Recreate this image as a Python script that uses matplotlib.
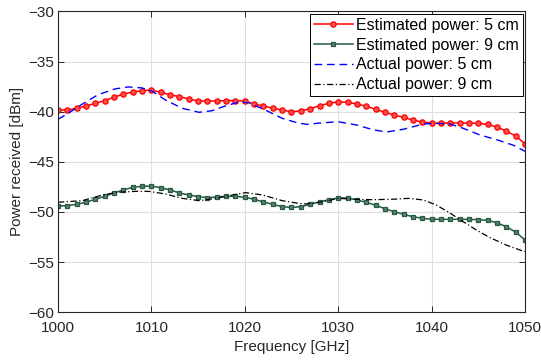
import matplotlib
matplotlib.use("Agg")
import matplotlib.pyplot as plt
import numpy as np

plt.rcParams.update({"font.family": ["Liberation Sans", "DejaVu Sans"], "font.size": 11})

# estimated power, sampled every 1 GHz
freq = list(range(1000, 1051))
est_5cm = [-39.83, -39.83, -39.66, -39.43, -39.16, -38.90, -38.56, -38.24, -38.04, -37.91,
           -37.84, -38.07, -38.31, -38.50, -38.73, -38.93, -38.93, -38.93, -38.90, -38.90,
           -38.93, -39.23, -39.43, -39.66, -39.83, -40.00, -39.93, -39.70, -39.40, -39.16,
           -39.03, -39.06, -39.23, -39.46, -39.76, -40.06, -40.33, -40.56, -40.83, -41.03,
           -41.13, -41.13, -41.13, -41.13, -41.13, -41.17, -41.26, -41.53, -41.93, -42.43,
           -43.19]
est_9cm = [-49.40, -49.37, -49.23, -49.03, -48.73, -48.44, -48.10, -47.80, -47.54, -47.44,
           -47.41, -47.58, -47.80, -48.10, -48.30, -48.47, -48.57, -48.50, -48.44, -48.44,
           -48.54, -48.73, -49.00, -49.23, -49.47, -49.55, -49.47, -49.23, -49.00, -48.77,
           -48.60, -48.60, -48.80, -49.03, -49.33, -49.67, -49.97, -50.23, -50.47, -50.63,
           -50.73, -50.73, -50.73, -50.73, -50.73, -50.77, -50.83, -51.07, -51.47, -52.00,
           -52.79]

# actual power
act5_f = [1000, 1001.1, 1002.5, 1004.3, 1006.1, 1007.5, 1009, 1010.1, 1011.5, 1013.3,
          1015.1, 1016.5, 1017.9, 1019.4, 1020.4, 1022.2, 1024.0, 1025.6, 1026.6, 1028.4,
          1030, 1032, 1033.8, 1035.2, 1037, 1039.1, 1040.2, 1042, 1043.4, 1045.2,
          1047, 1048.8, 1050]
act_5cm = [-40.76, -40.16, -39.30, -38.30, -37.73, -37.53, -37.63, -37.97, -38.83, -39.66,
           -40.06, -39.90, -39.43, -39.03, -39.10, -39.83, -40.66, -41.10, -41.26, -41.10,
           -41.00, -41.33, -41.82, -42.02, -41.75, -41.23, -41.16, -41.23, -41.66, -42.33,
           -42.80, -43.36, -43.95]
act9_f = [1000, 1002.6, 1004.4, 1006.2, 1008.3, 1009.7, 1011.5, 1013.3, 1015.1, 1016.9,
          1018.7, 1020.1, 1021.9, 1024.0, 1025.7, 1026.6, 1028.4, 1030, 1032, 1033.8,
          1035.5, 1037.6, 1039.1, 1040.5, 1042, 1043.4, 1044.8, 1046.2, 1048, 1049.8, 1050]
act_9cm = [-49.03, -48.87, -48.40, -48.04, -47.94, -47.94, -48.20, -48.64, -48.87, -48.64,
           -48.30, -48.07, -48.30, -48.87, -49.13, -49.20, -48.97, -48.64, -48.74, -48.77,
           -48.74, -48.64, -48.80, -49.30, -50.13, -50.97, -51.80, -52.53, -53.30, -53.90,
           -53.95]

fig = plt.figure(figsize=(5.41, 3.62), dpi=100)
ax = fig.add_axes([0.1072, 0.1373, 0.8632, 0.8312])

ax.plot(freq, est_5cm, color="#ff0000", lw=1.1, marker="o", ms=3.8,
        mfc="#ff5050", mec="#ff0000", mew=0.9, label="Estimated power: 5 cm")
ax.plot(freq, est_9cm, color="#245a40", lw=1.1, marker="s", ms=3.4,
        mfc="#5a8070", mec="#245a40", mew=0.9, label="Estimated power: 9 cm")
ax.plot(act5_f, act_5cm, color="#0000ff", lw=1.0, ls=(0, (5.5, 3.5)),
        label="Actual power: 5 cm")
ax.plot(act9_f, act_9cm, color="black", lw=0.9, ls=(0, (5, 2, 1, 2)),
        label="Actual power: 9 cm")

ax.set_xlim(1000, 1050)
ax.set_ylim(-60, -30)
ax.set_xticks(np.arange(1000, 1051, 10))
ax.set_yticks(np.arange(-60, -29, 5))
ax.grid(True, color="#dedede", lw=0.8)
ax.set_axisbelow(True)
ax.tick_params(direction="in", length=4, width=0.7, top=True, right=True,
               colors="#262626", labelsize=11)
ax.tick_params(axis="x", pad=6)
ax.tick_params(axis="y", pad=3)
for s in ax.spines.values():
    s.set_color("#262626")
    s.set_linewidth(0.8)

ax.set_xlabel("Frequency [GHz]", fontsize=11, color="#262626", labelpad=4)
ax.set_ylabel("Power received [dBm]", fontsize=11, color="#262626", labelpad=3)

leg = ax.legend(loc="upper right", fontsize=11.5, fancybox=False, framealpha=1,
                edgecolor="black", borderaxespad=0.15, borderpad=0.25,
                labelspacing=0.3, handlelength=2.4, handletextpad=0.2,
                numpoints=1)
leg.get_frame().set_linewidth(0.7)

fig.savefig("out.png", dpi=100, facecolor="white")
